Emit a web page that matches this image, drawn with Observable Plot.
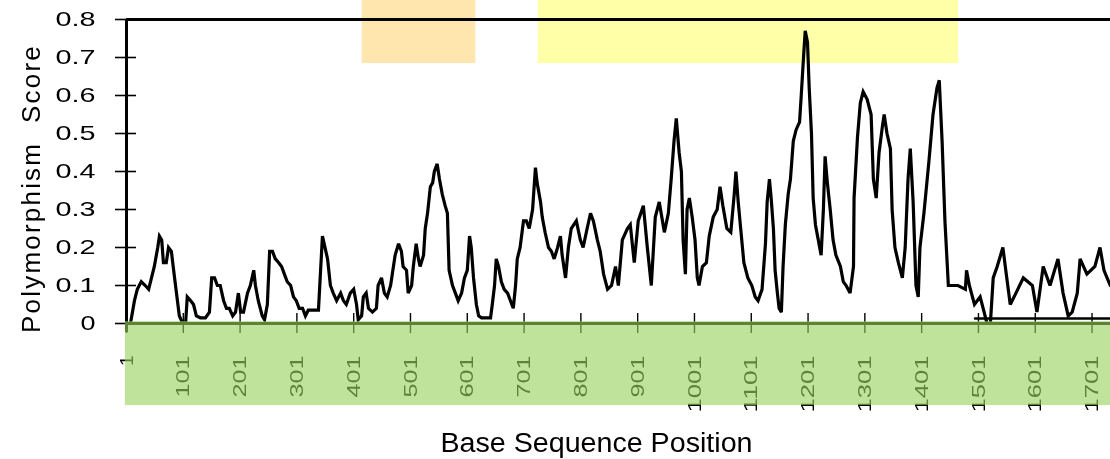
<!DOCTYPE html>
<html><head><meta charset="utf-8">
<script src="https://cdn.jsdelivr.net/npm/d3@7"></script>
<script src="https://cdn.jsdelivr.net/npm/@observablehq/plot@0.6"></script>
<style>
html,body{margin:0;padding:0;background:#fff;}
#chart svg{display:block;}
</style></head><body><div id="chart"></div>
<script>
// Base sequence positions and polymorphism scores
const positions = [1,8,15,20,27,34,40,45,50,56,59,63,66,71,75,80,84,89,94,100,105,108,114,119,124,131,140,147,151,156,161,166,172,177,182,188,193,198,202,207,214,219,225,228,233,240,244,249,253,258,263,269,274,279,284,290,295,300,305,311,316,321,332,339,342,346,349,355,360,365,371,378,383,388,395,401,406,409,415,418,423,427,434,441,444,450,455,460,466,469,474,480,485,488,494,497,503,506,511,515,518,524,527,531,536,540,543,548,552,557,562,566,569,575,580,585,591,596,601,605,608,612,617,621,626,636,642,645,649,652,656,661,666,672,677,682,686,689,694,700,705,710,716,721,724,730,733,738,744,749,754,760,765,768,774,779,784,793,800,805,812,818,823,830,835,841,848,855,862,867,874,883,888,895,902,911,918,925,932,939,948,955,960,965,969,974,978,981,985,988,992,997,1002,1006,1009,1015,1022,1027,1034,1041,1046,1051,1058,1065,1071,1074,1078,1083,1088,1095,1102,1108,1113,1120,1126,1129,1133,1136,1140,1143,1147,1150,1154,1157,1161,1166,1170,1175,1180,1186,1189,1193,1196,1200,1203,1207,1210,1214,1219,1224,1228,1231,1235,1240,1245,1250,1258,1263,1268,1275,1281,1282,1288,1293,1298,1305,1312,1316,1321,1326,1332,1335,1340,1346,1349,1354,1360,1367,1372,1377,1381,1386,1391,1395,1398,1405,1414,1421,1428,1432,1437,1442,1448,1457,1465,1478,1480,1485,1494,1504,1511,1516,1522,1527,1534,1544,1550,1557,1567,1580,1596,1604,1615,1627,1641,1650,1659,1666,1675,1680,1692,1706,1715,1722,1733];
const scores = [0.0,0.0,0.06,0.09,0.11,0.10,0.09,0.12,0.15,0.20,0.23,0.22,0.16,0.16,0.20,0.19,0.14,0.08,0.02,0.0,0.0,0.07,0.06,0.05,0.02,0.015,0.015,0.03,0.12,0.12,0.10,0.10,0.06,0.04,0.04,0.02,0.03,0.08,0.03,0.03,0.08,0.10,0.14,0.10,0.06,0.02,0.01,0.05,0.19,0.19,0.17,0.16,0.15,0.13,0.11,0.10,0.07,0.06,0.04,0.04,0.02,0.035,0.035,0.035,0.12,0.23,0.21,0.17,0.10,0.08,0.06,0.08,0.06,0.05,0.08,0.09,0.05,0.01,0.02,0.07,0.08,0.04,0.03,0.04,0.10,0.12,0.08,0.07,0.10,0.13,0.18,0.21,0.19,0.15,0.14,0.08,0.10,0.15,0.21,0.17,0.15,0.18,0.25,0.29,0.36,0.37,0.40,0.42,0.38,0.34,0.31,0.29,0.14,0.10,0.08,0.06,0.08,0.12,0.14,0.23,0.20,0.12,0.05,0.02,0.015,0.015,0.015,0.05,0.10,0.17,0.15,0.11,0.09,0.08,0.06,0.04,0.10,0.17,0.20,0.27,0.27,0.25,0.30,0.41,0.37,0.32,0.28,0.24,0.20,0.19,0.17,0.20,0.23,0.18,0.12,0.20,0.25,0.27,0.22,0.20,0.25,0.29,0.27,0.22,0.19,0.13,0.09,0.10,0.15,0.10,0.22,0.25,0.26,0.16,0.27,0.31,0.20,0.10,0.28,0.32,0.24,0.29,0.38,0.48,0.54,0.45,0.40,0.22,0.13,0.30,0.33,0.28,0.22,0.12,0.10,0.15,0.16,0.23,0.28,0.30,0.36,0.31,0.25,0.24,0.34,0.40,0.32,0.24,0.16,0.12,0.10,0.07,0.06,0.09,0.21,0.32,0.38,0.33,0.25,0.14,0.08,0.04,0.03,0.15,0.26,0.34,0.38,0.48,0.51,0.53,0.60,0.70,0.77,0.74,0.62,0.50,0.33,0.26,0.22,0.18,0.30,0.44,0.37,0.30,0.22,0.18,0.15,0.11,0.10,0.08,0.15,0.33,0.49,0.58,0.61,0.59,0.55,0.38,0.33,0.45,0.52,0.55,0.50,0.46,0.30,0.20,0.16,0.12,0.20,0.38,0.46,0.32,0.10,0.07,0.20,0.29,0.43,0.55,0.62,0.64,0.48,0.27,0.10,0.10,0.10,0.09,0.14,0.10,0.05,0.07,0.03,0.0,0.0,0.12,0.15,0.20,0.13,0.05,0.08,0.12,0.10,0.03,0.15,0.10,0.17,0.08,0.02,0.03,0.08,0.17,0.13,0.15,0.20,0.14,0.10];
// flat trace near zero at the right end
const baselinePositions = [1495, 1733];
const baselineScores = [0.013, 0.013];

const yTicks = [0, 0.1, 0.2, 0.3, 0.4, 0.5, 0.6, 0.7, 0.8];
const yTickLabels = ["0", "0.1", "0.2", "0.3", "0.4", "0.5", "0.6", "0.7", "0.8"];
const xTicks = [1, 101, 201, 301, 401, 501, 601, 701, 801, 901, 1001, 1101, 1201, 1301, 1401, 1501, 1601, 1701];
const xTickLabels = ["1","101","201","301","401","501","601","701","801","901","1001","1101","1201","1301","1401","1501","1601","1701"];

// highlighted regions (in position / score units)
const highlightStart = [416, 726];
const highlightEnd = [616, 1466];
const highlightColor = ["#ffe6ae", "#ffffa8"];
const bandStart = [-1];
const bandEnd = [1733.5];

const series = positions.map((p, i) => ({pos: p, score: scores[i]}));
const baseline = baselinePositions.map((p, i) => ({pos: p, score: baselineScores[i]}));
const highlights = highlightStart.map((s, i) => ({x1: s, x2: highlightEnd[i], fill: highlightColor[i]}));
const band = bandStart.map((s, i) => ({x1: s, x2: bandEnd[i]}));

const font = "'Liberation Sans', Arial, Helvetica, sans-serif";

const svg = Plot.plot({
  width: 1110,
  height: 459,
  marginLeft: 126,
  marginRight: 0,
  marginTop: 19,
  marginBottom: 136,
  style: {fontFamily: font, background: "white", color: "black", overflow: "visible"},
  x: {domain: [1, 1733.5]},
  y: {domain: [0, 0.8]},
  marks: [
    Plot.ruleY(yTicks, {stroke: "black", strokeWidth: 1.6, insetLeft: -11, insetRight: 974}),
    Plot.ruleX(xTicks, {stroke: "black", strokeWidth: 1.4, insetTop: 294, insetBottom: -10}),
    Plot.ruleY([0.8], {stroke: "black", strokeWidth: 3}),
    Plot.ruleY([0], {stroke: "black", strokeWidth: 3}),
    Plot.ruleX([1], {stroke: "black", strokeWidth: 3, insetBottom: -9}),
    Plot.line(baseline, {x: "pos", y: "score", stroke: "black", strokeWidth: 2.4}),
    Plot.line(series, {x: "pos", y: "score", stroke: "black", strokeWidth: 3.2, strokeLinejoin: "miter", strokeMiterlimit: 3}),
    Plot.axisY({ticks: yTicks, tickSize: 0, tickPadding: 31, fontSize: 21, label: null,
      tickFormat: (d) => yTickLabels[yTicks.indexOf(d)]}),
    Plot.axisX({ticks: xTicks, tickSize: 0, tickPadding: 32, tickRotate: -90, fontSize: 19, label: null,
      tickFormat: (d) => xTickLabels[xTicks.indexOf(d)]}),
    Plot.rect(band, {x1: "x1", x2: "x2", y1: 0.005, y2: -0.216, fill: "#9ad25f", fillOpacity: 0.62, clip: false}),
    Plot.rect(highlights, {x1: "x1", x2: "x2", y1: 0.684, y2: 0.85, fill: "fill", mixBlendMode: "multiply", clip: false}),
    Plot.text(["Polymorphism\u00a0\u00a0Score"], {frameAnchor: "left", textAnchor: "middle", lineAnchor: "middle", rotate: -90, dx: -95, dy: 17, fontSize: 26, fill: "black"}),
    Plot.text(["Base Sequence Position"], {frameAnchor: "bottom", textAnchor: "middle", lineAnchor: "middle", dx: -22, dy: 120, fontSize: 27, fill: "black"})
  ]
});

document.getElementById("chart").appendChild(svg);

// scanned-figure glyph proportions
svg.querySelectorAll('g[aria-label="y-axis tick label"] text').forEach((t) => {
  const s = t.textContent;
  t.setAttribute("textLength", s.length === 1 ? 15 : 40);
  t.setAttribute("lengthAdjust", "spacingAndGlyphs");
});
svg.querySelectorAll('g[aria-label="x-axis tick label"] text').forEach((t) => {
  const s = t.textContent;
  if (s.length > 1) {
    t.setAttribute("textLength", s.length === 3 ? 42 : 57);
    t.setAttribute("lengthAdjust", "spacingAndGlyphs");
  }
});
svg.querySelectorAll('g[aria-label="text"] text').forEach((t) => {
  if (t.textContent.startsWith("Polymorphism")) {
    t.style.letterSpacing = "2.2px";
  } else if (t.textContent.startsWith("Base")) {
    t.setAttribute("textLength", 312);
    t.setAttribute("lengthAdjust", "spacingAndGlyphs");
  }
});
</script>
</body></html>
